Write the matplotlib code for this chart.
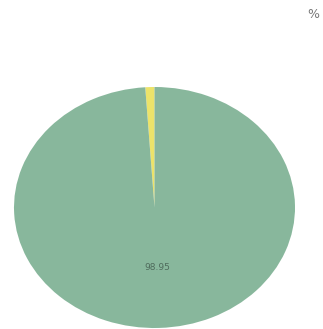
import matplotlib.pyplot as plt

# slice data (percent)
labels = ["Other", "Main"]
values = [1.05, 98.95]
colors = ["#ece36a", "#88b79c"]

W, H = 323, 329
fig = plt.figure(figsize=(W / 100, H / 100), dpi=100)

# axes box around the (slightly squashed) pie
left, right = 14, 295
top, bottom = 87, 328
ax = fig.add_axes([left / W, 1 - bottom / H, (right - left) / W, (bottom - top) / H])

wedges, texts, autotexts = ax.pie(
    values,
    colors=colors,
    startangle=90,
    counterclock=True,
    autopct=lambda p: f"{p:.2f}" if p > 5 else "",
    pctdistance=0.5,
    wedgeprops=dict(linewidth=0),
)
for t in autotexts:
    t.set_color("#4f6b5c")
    t.set_fontsize(6.5)
ax.set_aspect("auto")
ax.set_xlim(-1, 1)
ax.set_ylim(-1, 1)
ax.axis("off")

fig.text(313 / W, 1 - 15 / H, "%", color="#777777", fontsize=9, ha="center", va="center")

fig.savefig("out.png", dpi=100)
